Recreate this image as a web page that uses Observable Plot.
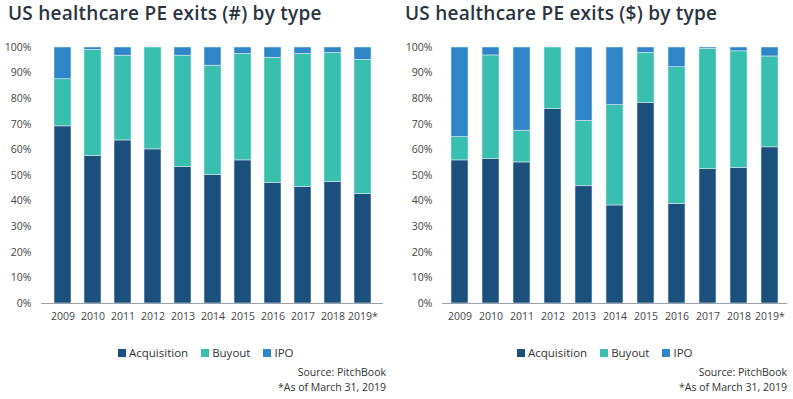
<!DOCTYPE html>
<html>
<head>
<meta charset="utf-8">
<script src="https://cdn.jsdelivr.net/npm/d3@7"></script>
<script src="https://cdn.jsdelivr.net/npm/@observablehq/plot@0.6"></script>
<style>
  html, body { margin: 0; padding: 0; background: #fff; }
  #root { position: relative; width: 793px; height: 399px; overflow: hidden; font-family: "Open Sans", sans-serif; }
  .panel { position: absolute; top: 0; height: 399px; }
  .title { position: absolute; top: 0px; white-space: nowrap; font-family: "Open Sans", sans-serif; font-weight: 600; font-size: 19px; color: #2a3440; letter-spacing: 0.25px; }
  .chart { position: absolute; top: 35px; left: 0; }
  .legend { position: absolute; top: 345px; display: flex; align-items: center; font-size: 11.5px; color: #333; white-space: nowrap; }
  .legend .item { display: flex; align-items: center; margin-right: 13px; }
  .legend .sw { width: 8px; height: 8px; margin-right: 3px; }
  .cap { position: absolute; font-size: 10.5px; color: #333; text-align: right; white-space: nowrap; }
</style>
</head>
<body>
<div id="root"></div>
<script>
const years = ["2009","2010","2011","2012","2013","2014","2015","2016","2017","2018","2019*"];
const types = ["Acquisition", "Buyout", "IPO"];
const colors = ["#1b4f7c", "#38bfb0", "#2e86c8"];

// Exits by count (% share)
const countAcquisition = [69.2, 57.7, 63.7, 60.2, 53.3, 50.2, 55.9, 47.1, 45.5, 47.5, 42.8];
const countBuyout      = [18.4, 41.4, 33.1, 39.8, 43.5, 42.7, 41.6, 48.9, 52.0, 50.4, 52.4];
const countIPO         = [12.4,  0.9,  3.2,  0.0,  3.2,  7.1,  2.5,  4.0,  2.5,  2.1,  4.8];

// Exits by value (% share)
const valueAcquisition = [55.9, 56.4, 55.1, 76.0, 45.8, 38.3, 78.3, 38.9, 52.5, 52.9, 61.0];
const valueBuyout      = [ 9.1, 40.5, 12.4, 24.0, 25.5, 39.2, 19.6, 53.4, 47.0, 45.6, 35.5];
const valueIPO         = [35.0,  3.1, 32.5,  0.0, 28.7, 22.5,  2.1,  7.7,  0.5,  1.5,  3.5];

const yTicks = [0,10,20,30,40,50,60,70,80,90,100];

function toRows(acq, buy, ipo) {
  const rows = [];
  years.forEach((y, i) => {
    rows.push({year: y, type: "Acquisition", value: acq[i]});
    rows.push({year: y, type: "Buyout", value: buy[i]});
    rows.push({year: y, type: "IPO", value: ipo[i]});
  });
  return rows;
}

function makeChart(rows, width, ml, mr) {
  return Plot.plot({
    width, height: 295,
    marginTop: 12, marginBottom: 27, marginLeft: ml, marginRight: mr,
    style: {fontFamily: "Open Sans, sans-serif", fontSize: "10.5px", color: "#444", background: "transparent"},
    x: {domain: years, paddingInner: 0.45, paddingOuter: 0.28, label: null, tickSize: 0, tickPadding: 9},
    y: {domain: [0, 100], ticks: yTicks, tickFormat: d => d + "%", label: null, tickSize: 0, tickPadding: 10},
    color: {domain: types, range: colors},
    marks: [
      Plot.barY(rows, {x: "year", y: "value", fill: "type", stroke: "#dbe6ee", strokeWidth: 0.6, order: types}),
      Plot.ruleY([0], {stroke: "#9aa3ab", strokeWidth: 1})
    ]
  });
}

function makePanel(left, width, titleText, rows, ml, mr, titleLeft, legendLeft, capRight) {
  const root = document.getElementById("root");
  const p = document.createElement("div");
  p.className = "panel";
  p.style.left = left + "px";
  p.style.width = width + "px";
  const t = document.createElement("div");
  t.className = "title";
  t.style.left = titleLeft + "px";
  t.textContent = titleText;
  p.appendChild(t);
  const c = document.createElement("div");
  c.className = "chart";
  c.appendChild(makeChart(rows, width, ml, mr));
  p.appendChild(c);
  const lg = document.createElement("div");
  lg.className = "legend";
  lg.style.left = legendLeft + "px";
  types.forEach((ty, i) => {
    const it = document.createElement("div");
    it.className = "item";
    const sw = document.createElement("div");
    sw.className = "sw";
    sw.style.background = colors[i];
    it.appendChild(sw);
    const tx = document.createElement("span");
    tx.textContent = ty;
    it.appendChild(tx);
    lg.appendChild(it);
  });
  p.appendChild(lg);
  const c1 = document.createElement("div");
  c1.className = "cap";
  c1.style.right = capRight + "px";
  c1.style.top = "365px";
  c1.textContent = "Source: PitchBook";
  p.appendChild(c1);
  const c2 = document.createElement("div");
  c2.className = "cap";
  c2.style.right = capRight + "px";
  c2.style.top = "380px";
  c2.textContent = "*As of March 31, 2019";
  p.appendChild(c2);
  root.appendChild(p);
}

makePanel(0, 400, "US healthcare PE exits (#) by type", toRows(countAcquisition, countBuyout, countIPO), 41, 17, 8, 118, 14);
makePanel(400, 393, "US healthcare PE exits ($) by type", toRows(valueAcquisition, valueBuyout, valueIPO), 42, 6, 5, 117, 6);
</script>
</body>
</html>
